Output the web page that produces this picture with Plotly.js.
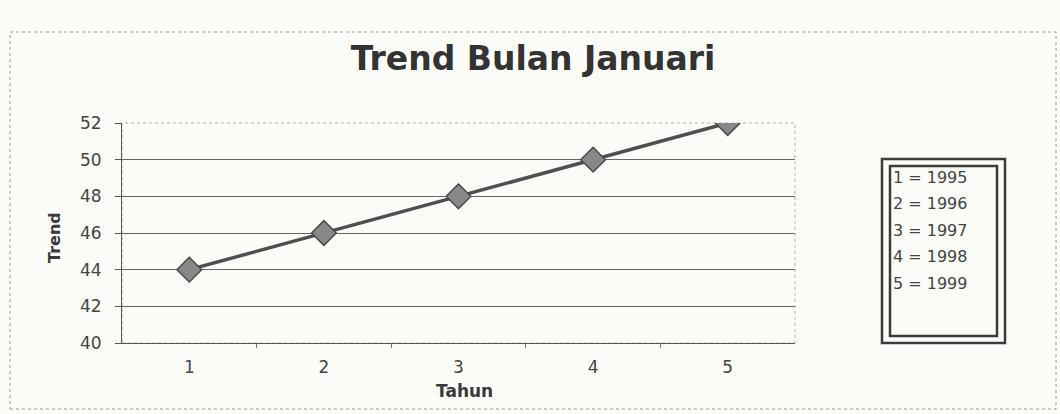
<!DOCTYPE html>
<html>
<head>
<meta charset="utf-8">
<script src="https://cdn.plot.ly/plotly-3.0.1.min.js"></script>
<style>
html,body{margin:0;padding:0;background:#fbfbf7;}
#chart{width:1060px;height:414px;}
</style>
</head>
<body>
<div id="chart"></div>
<script>
// Data
const tahun = [1, 2, 3, 4, 5];
const trend = [44, 46, 48, 50, 52];
const tickLabels = ["1", "2", "3", "4", "5"];
const yTicks = [40, 42, 44, 46, 48, 50, 52];
const legendCodes = [1, 2, 3, 4, 5];
const legendYears = [1995, 1996, 1997, 1998, 1999];

const FONT = "DejaVu Sans, Verdana, sans-serif";
const TXT = "#3a3a3a";

// layout geometry (pixels)
const W = 1060, H = 414;
const L = 122, R = 795, T = 123, B = 343;
const pw = R - L, ph = B - T;
const px = x => (x - L) / pw;
const py = y => (B - y) / ph;

const trace = {
  x: tahun,
  y: trend,
  type: "scatter",
  mode: "lines+markers",
  line: {color: "#4f4f4f", width: 3.5},
  marker: {symbol: "diamond", size: 19, color: "#888888", line: {color: "#4a4a4a", width: 1.5}},
  hoverinfo: "x+y"
};

const annotations = [
  {text: "Tahun", xref: "paper", yref: "paper", x: px(464), y: py(391),
   xanchor: "center", yanchor: "middle", showarrow: false,
   font: {family: FONT, size: 17, color: TXT, weight: "bold"}},
  {text: "Trend", xref: "paper", yref: "paper", x: px(54), y: py(238),
   xanchor: "center", yanchor: "middle", showarrow: false, textangle: -90,
   font: {family: FONT, size: 16, color: TXT, weight: "bold"}}
];
legendCodes.forEach((c, i) => {
  annotations.push({
    text: c + " = " + legendYears[i], xref: "paper", yref: "paper",
    x: px(891), y: py(177 + i * 26.6), xanchor: "left", yanchor: "middle",
    showarrow: false, font: {family: FONT, size: 16, color: "#444"}
  });
});

const shapes = [
  // outer chart frame
  {type: "rect", xref: "paper", yref: "paper", x0: px(10), x1: px(1056), y0: py(409), y1: py(32),
   line: {color: "#9a9a9a", width: 1, dash: "dot"}, layer: "below"},
  // plot-area frame (dotted top/right)
  {type: "rect", xref: "paper", yref: "paper", x0: 0, x1: 1, y0: 0, y1: 1,
   line: {color: "#b0b0b0", width: 1, dash: "dot"}, layer: "below"},
  // legend double border
  {type: "rect", xref: "paper", yref: "paper", x0: px(882), x1: px(1005), y0: py(343), y1: py(159),
   line: {color: "#3c3c3c", width: 2.5}},
  {type: "rect", xref: "paper", yref: "paper", x0: px(890), x1: px(997), y0: py(336), y1: py(166),
   line: {color: "#3c3c3c", width: 2.5}}
];

const layout = {
  width: W, height: H,
  paper_bgcolor: "#fbfbf7",
  plot_bgcolor: "rgba(0,0,0,0)",
  margin: {l: L, r: W - R, t: T, b: H - B, pad: 0},
  showlegend: false,
  title: {
    text: "<b>Trend Bulan Januari</b>",
    font: {family: FONT, size: 33, color: "#333"},
    x: 533 / W, xref: "container", xanchor: "center",
    y: 1 - 58 / H, yref: "container", yanchor: "middle"
  },
  xaxis: {
    range: [0.5, 5.5],
    tickmode: "array", tickvals: tahun, ticktext: tickLabels,
    ticks: "", showgrid: false, zeroline: false,
    showline: true, linecolor: "#555", linewidth: 1,
    ticklabelstandoff: 9,
    tickfont: {family: FONT, size: 17, color: "#444"},
    minor: {tickmode: "array", tickvals: [1.5, 2.5, 3.5, 4.5], ticks: "outside", ticklen: 4, tickcolor: "#777", showgrid: false},
    fixedrange: true
  },
  yaxis: {
    range: [40, 52],
    tickmode: "array", tickvals: yTicks,
    ticks: "outside", ticklen: 6, tickcolor: "#555",
    showgrid: true, gridcolor: "#666666", gridwidth: 1,
    zeroline: false, showline: true, linecolor: "#555", linewidth: 1,
    ticklabelstandoff: 10,
    tickfont: {family: FONT, size: 17, color: "#444"},
    fixedrange: true
  },
  annotations: annotations,
  shapes: shapes
};

Plotly.newPlot("chart", [trace], layout, {displayModeBar: false, staticPlot: true});
</script>
</body>
</html>
